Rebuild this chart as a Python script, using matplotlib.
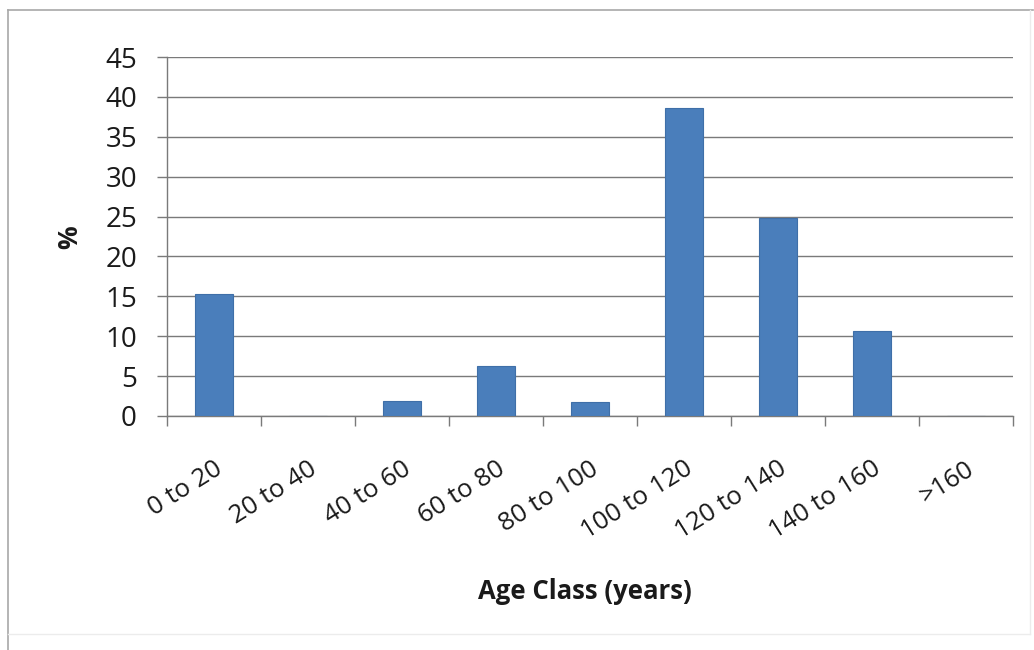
import numpy as np
import matplotlib
matplotlib.use("Agg")
import matplotlib.pyplot as plt
import matplotlib.transforms as mtransforms
from matplotlib.lines import Line2D

plt.rcParams.update({
    "font.family": ["Open Sans", "DejaVu Sans"],
    "font.size": 18,
})

# data
age_classes = ["0 to 20", "20 to 40", "40 to 60", "60 to 80", "80 to 100",
               "100 to 120", "120 to 140", "140 to 160", ">160"]
percent = [15.3, 0.0, 1.9, 6.3, 1.7, 38.6, 24.8, 10.7, 0.0]
y_ticks = [0, 5, 10, 15, 20, 25, 30, 35, 40, 45]

BAR = "#4A7EBB"
GRID = "#7a7a7a"
TEXT = "#1a1a1a"

fig = plt.figure(figsize=(10.34, 6.5), dpi=100)
ax = fig.add_axes([0.1615, 0.36, 0.8182, 0.5523])

x = np.arange(len(age_classes))
ax.bar(x, percent, width=0.4, color=BAR, edgecolor="#3F6FA8", linewidth=0.8, zorder=3)

ax.set_xlim(-0.5, len(age_classes) - 0.5)
ax.set_ylim(0, 45)
ax.set_yticks(y_ticks)
ax.yaxis.grid(True, color=GRID, linewidth=1.0, zorder=0)

# category labels at centres, tick marks at boundaries
ax.set_xticks(x)
ax.set_xticklabels(age_classes, rotation=32, ha="right", rotation_mode="anchor",
                   color=TEXT, fontsize=18.5)
shift = mtransforms.ScaledTranslation(-4 / 100, -2 / 100, fig.dpi_scale_trans)
for lab in ax.get_xticklabels():
    lab.set_transform(lab.get_transform() + shift)
ax.set_xticks(np.arange(len(age_classes) + 1) - 0.5, minor=True)
ax.tick_params(axis="x", which="major", length=0, pad=29)
ax.tick_params(axis="x", which="minor", length=7.2, width=1.0, color=GRID, direction="out")
ax.tick_params(axis="y", length=7.2, width=1.0, color=GRID, direction="out",
               pad=14.4, labelcolor=TEXT, labelsize=20)

for s in ["top", "right"]:
    ax.spines[s].set_visible(False)
for s in ["left", "bottom"]:
    ax.spines[s].set_color(GRID)
    ax.spines[s].set_linewidth(1.0)

ax.set_xlabel("Age Class (years)", fontsize=18.5, fontweight="bold", color=TEXT)
ax.xaxis.label.set_va("center")
ax.xaxis.set_label_coords(0.494, -0.49)
ax.set_ylabel("%", fontsize=19, fontweight="bold", color=TEXT)
ax.yaxis.set_label_coords(-0.099, 0.497)

# outer chart border
fig.add_artist(Line2D([0.0075, 0.999], [0.984, 0.984], color="#a8a8a8", lw=1.2))
fig.add_artist(Line2D([0.0075, 0.0075], [0.0, 0.984], color="#a8a8a8", lw=1.2))
fig.add_artist(Line2D([0.996, 0.996], [0.025, 0.984], color="#ececec", lw=1.0))
fig.add_artist(Line2D([0.0075, 0.996], [0.025, 0.025], color="#ececec", lw=1.0))

fig.savefig("out.png", dpi=100)
